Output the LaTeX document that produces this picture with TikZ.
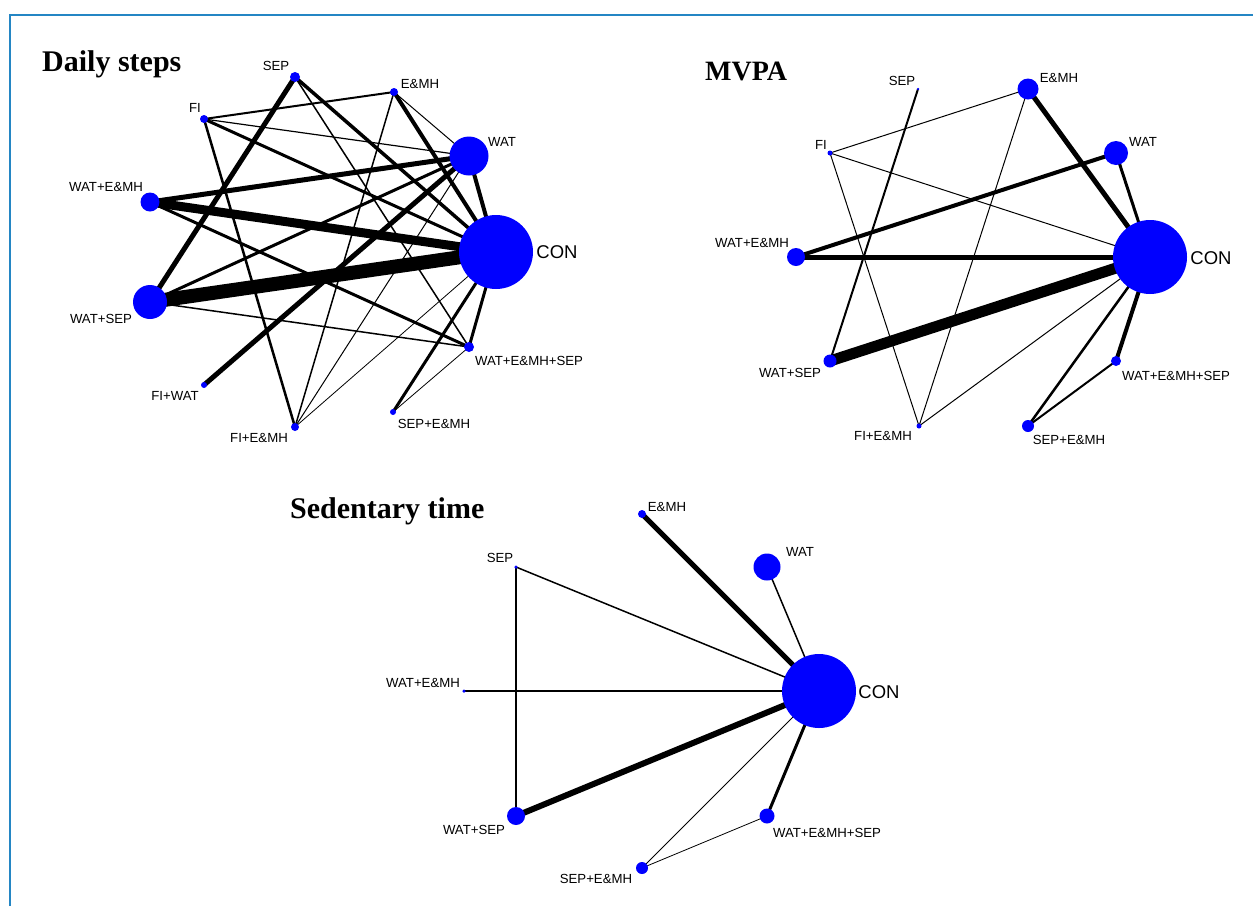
\documentclass[tikz,border=0pt]{standalone}
\usepackage{fontspec}
\setmainfont{Liberation Serif}
\newfontfamily\labfont{Liberation Sans}
\usetikzlibrary{backgrounds}
\definecolor{nodeblue}{RGB}{0,0,255}
\definecolor{frameblue}{RGB}{36,134,196}
\begin{document}
\begin{tikzpicture}[x=1pt,y=-1pt,
  nd/.style={circle,fill=nodeblue,inner sep=0pt,minimum size=#1},
  lab/.style={font=\labfont\fontsize{13.2}{15}\selectfont,inner sep=0pt},
  conlab/.style={font=\labfont\fontsize{18.5}{20}\selectfont,inner sep=0pt},
  ttl/.style={font=\bfseries\fontsize{30}{34}\selectfont,inner sep=0pt,anchor=base west},
  ed/.style={line width=#1,draw=black}]
\useasboundingbox (0,0) rectangle (1253,906);
% frame
\draw[frameblue,line width=2] (10,906) -- (10,15) -- (1253,15);

% ===== Daily steps =====
\node[ttl] (dsT) at (42,71) {Daily steps};
\node[nd=10] (dsSEP) at (295,77) {};
\node[nd=8] (dsEMH) at (394,92) {};
\node[nd=8] (dsFI) at (204,119) {};
\node[nd=39] (dsWAT) at (469,156) {};
\node[nd=19] (dsWATEMH) at (150,202) {};
\node[nd=74] (dsCON) at (496,252) {};
\node[nd=34] (dsWATSEP) at (150,302) {};
\node[nd=10] (dsWES) at (469,347) {};
\node[nd=6] (dsFIWAT) at (204,385) {};
\node[nd=8] (dsFIEMH) at (295,427) {};
\node[nd=6] (dsSEPEMH) at (393,412) {};
\node[lab] (dsSEPl) at (276,66) {SEP};
\node[lab] (dsEMHl) at (420,84) {E\&MH};
\node[lab] (dsFIl) at (195,108) {FI};
\node[lab] (dsWATl) at (502,142) {WAT};
\node[lab] (dsWATEMHl) at (106,187) {WAT+E\&MH};
\node[conlab] (dsCONl) at (557,252) {CON};
\node[lab] (dsWATSEPl) at (101,319) {WAT+SEP};
\node[lab] (dsWESl) at (529,361) {WAT+E\&MH+SEP};
\node[lab] (dsFIWATl) at (175,396) {FI+WAT};
\node[lab] (dsFIEMHl) at (259,438) {FI+E\&MH};
\node[lab] (dsSEPEMHl) at (434,424) {SEP+E\&MH};
\begin{scope}[on background layer]
\draw[ed=5] (dsSEP.center) -- (dsWATSEP.center);
\draw[ed=3.5] (dsSEP.center) -- (dsCON.center);
\draw[ed=1.5] (dsSEP.center) -- (dsWES.center);
\draw[ed=2] (dsFI.center) -- (dsEMH.center);
\draw[ed=1.2] (dsFI.center) -- (dsWAT.center);
\draw[ed=3] (dsFI.center) -- (dsCON.center);
\draw[ed=2.5] (dsFI.center) -- (dsFIEMH.center);
\draw[ed=1] (dsEMH.center) -- (dsWAT.center);
\draw[ed=4] (dsEMH.center) -- (dsCON.center);
\draw[ed=1.5] (dsEMH.center) -- (dsFIEMH.center);
\draw[ed=5] (dsWAT.center) -- (dsWATEMH.center);
\draw[ed=3] (dsWAT.center) -- (dsWATSEP.center);
\draw[ed=5] (dsWAT.center) -- (dsFIWAT.center);
\draw[ed=4] (dsWAT.center) -- (dsCON.center);
\draw[ed=1] (dsWAT.center) -- (dsFIEMH.center);
\draw[ed=9] (dsWATEMH.center) -- (dsCON.center);
\draw[ed=3] (dsWATEMH.center) -- (dsWES.center);
\draw[ed=14] (dsWATSEP.center) -- (dsCON.center);
\draw[ed=1.5] (dsWATSEP.center) -- (dsWES.center);
\draw[ed=3] (dsCON.center) -- (dsWES.center);
\draw[ed=3] (dsCON.center) -- (dsSEPEMH.center);
\draw[ed=0.8] (dsCON.center) -- (dsFIEMH.center);
\draw[ed=0.8] (dsWES.center) -- (dsSEPEMH.center);
\end{scope}

% ===== MVPA =====
\node[ttl,font=\bfseries\fontsize{28}{32}\selectfont] (mvT) at (705,80) {MVPA};
\node[nd=2.5] (mvSEP) at (918,89) {};
\node[nd=21] (mvEMH) at (1028,89) {};
\node[nd=5] (mvFI) at (830,153) {};
\node[nd=24] (mvWAT) at (1116,153) {};
\node[nd=18] (mvWATEMH) at (796,257) {};
\node[nd=74] (mvCON) at (1150,257) {};
\node[nd=13] (mvWATSEP) at (830,361) {};
\node[nd=5] (mvFIEMH) at (919,426) {};
\node[nd=10] (mvWES) at (1116,361) {};
\node[nd=12] (mvSEPEMH) at (1028,426) {};
\node[lab] (mvSEPl) at (902,81) {SEP};
\node[lab] (mvEMHl) at (1059,78) {E\&MH};
\node[lab] (mvFIl) at (821,145) {FI};
\node[lab] (mvWATl) at (1143,142) {WAT};
\node[lab] (mvWATEMHl) at (752,243) {WAT+E\&MH};
\node[conlab] (mvCONl) at (1211,258) {CON};
\node[lab] (mvWATSEPl) at (790,373) {WAT+SEP};
\node[lab] (mvFIEMHl) at (883,436) {FI+E\&MH};
\node[lab] (mvWESl) at (1176,376) {WAT+E\&MH+SEP};
\node[lab] (mvSEPEMHl) at (1069,440) {SEP+E\&MH};
\begin{scope}[on background layer]
\draw[ed=2] (mvSEP.center) -- (mvWATSEP.center);
\draw[ed=1] (mvEMH.center) -- (mvFI.center);
\draw[ed=5] (mvEMH.center) -- (mvCON.center);
\draw[ed=1] (mvEMH.center) -- (mvFIEMH.center);
\draw[ed=1] (mvFI.center) -- (mvCON.center);
\draw[ed=1] (mvFI.center) -- (mvFIEMH.center);
\draw[ed=4] (mvWAT.center) -- (mvWATEMH.center);
\draw[ed=3] (mvWAT.center) -- (mvCON.center);
\draw[ed=5] (mvWATEMH.center) -- (mvCON.center);
\draw[ed=11] (mvWATSEP.center) -- (mvCON.center);
\draw[ed=1] (mvCON.center) -- (mvFIEMH.center);
\draw[ed=4] (mvCON.center) -- (mvWES.center);
\draw[ed=2.5] (mvCON.center) -- (mvSEPEMH.center);
\draw[ed=2] (mvWES.center) -- (mvSEPEMH.center);
\end{scope}

% ===== Sedentary time =====
\node[ttl] (stT) at (290,518) {Sedentary time};
\node[nd=8] (stEMH) at (642,514) {};
\node[nd=27] (stWAT) at (767,567) {};
\node[nd=3.5] (stSEP) at (516,567) {};
\node[nd=3.5] (stWATEMH) at (464,691) {};
\node[nd=74] (stCON) at (819,691) {};
\node[nd=18] (stWATSEP) at (516,816) {};
\node[nd=15] (stWES) at (767,816) {};
\node[nd=12] (stSEPEMH) at (642,868) {};
\node[lab] (stEMHl) at (667,507) {E\&MH};
\node[lab] (stWATl) at (800,552) {WAT};
\node[lab] (stSEPl) at (500,558) {SEP};
\node[lab] (stWATEMHl) at (423,683) {WAT+E\&MH};
\node[conlab] (stCONl) at (879,692) {CON};
\node[lab] (stWATSEPl) at (474,830) {WAT+SEP};
\node[lab] (stWESl) at (827,833) {WAT+E\&MH+SEP};
\node[lab] (stSEPEMHl) at (596,879) {SEP+E\&MH};
\begin{scope}[on background layer]
\draw[ed=5] (stEMH.center) -- (stCON.center);
\draw[ed=1.5] (stWAT.center) -- (stCON.center);
\draw[ed=1.5] (stSEP.center) -- (stCON.center);
\draw[ed=1.5] (stSEP.center) -- (stWATSEP.center);
\draw[ed=2.5] (stWATEMH.center) -- (stCON.center);
\draw[ed=6] (stWATSEP.center) -- (stCON.center);
\draw[ed=0.8] (stCON.center) -- (stSEPEMH.center);
\draw[ed=3] (stCON.center) -- (stWES.center);
\draw[ed=0.8] (stWES.center) -- (stSEPEMH.center);
\end{scope}
\end{tikzpicture}
\end{document}
